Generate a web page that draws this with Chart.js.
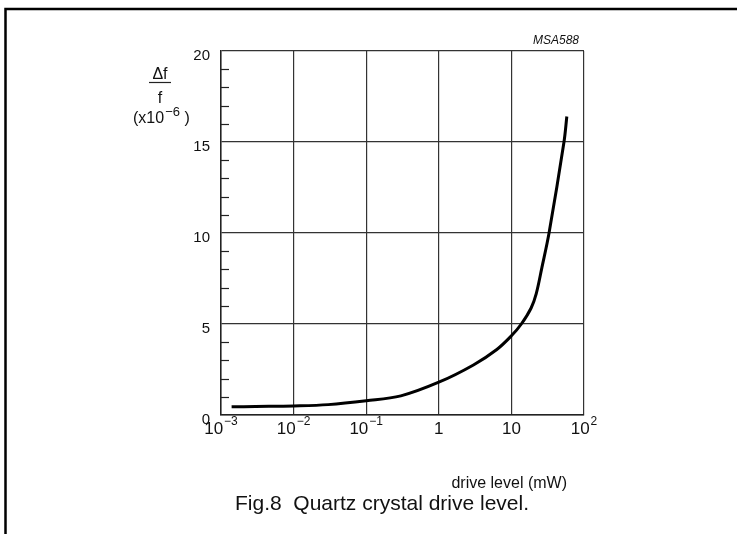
<!DOCTYPE html>
<html><head><meta charset="utf-8">
<script src="https://cdn.jsdelivr.net/npm/chart.js@4"></script>
<style>html,body{margin:0;padding:0;background:#fff;}#wrap{position:relative;width:737px;height:534px;}</style>
</head><body><div id="wrap"><canvas id="c" width="737" height="534"></canvas></div>
<script>
// Data (drive level in mW, delta f / f in 1e-6)
const driveLevel = [0.0014, 0.003, 0.01, 0.03, 0.1, 0.3, 1, 3, 6.3, 10, 13.7, 18.7, 22, 26.3, 33, 53, 58];
const deltaF     = [0.45, 0.47, 0.5, 0.57, 0.78, 1.05, 1.8, 2.75, 3.6, 4.35, 5.0, 5.88, 6.67, 8.1, 10, 15, 16.4];
const xTicks    = [0.001, 0.01, 0.1, 1, 10, 100];
const xTickBase = ['10', '10', '10', '1', '10', '10'];
const xTickExp  = ['\u22123', '\u22122', '\u22121', '', '', '2'];
const yTicks    = [0, 5, 10, 15, 20];
const yTickLabels = ['0', '5', '10', '15', '20'];
const yMinor    = [1,2,3,4,6,7,8,9,11,12,13,14,16,17,18,19];

const FONT = '"Liberation Sans", Arial, Helvetica, sans-serif';

const labelsPlugin = {
  id: 'labels',
  beforeDraw(chart) {
    const ctx = chart.ctx;
    ctx.save();
    ctx.fillStyle = '#fff';
    ctx.fillRect(0, 0, chart.width, chart.height);
    ctx.restore();
  },
  afterDraw(chart) {
    const ctx = chart.ctx;
    const xs = chart.scales.x, ys = chart.scales.y;
    const left = chart.chartArea.left;
    ctx.save();
    ctx.fillStyle = '#111';
    ctx.strokeStyle = '#222';
    // minor inward ticks on y axis
    ctx.lineWidth = 1.2;
    yMinor.forEach(v => {
      const p = Math.round(ys.getPixelForValue(v)) + 0.5;
      ctx.beginPath(); ctx.moveTo(left, p); ctx.lineTo(left + 8, p); ctx.stroke();
    });
    // y tick labels
    ctx.font = '15px ' + FONT;
    ctx.textAlign = 'right';
    ctx.textBaseline = 'alphabetic';
    yTicks.forEach((v, i) => {
      ctx.fillText(yTickLabels[i], 210, ys.getPixelForValue(v) + 8.5);
    });
    // x tick labels with superscripts
    ctx.textAlign = 'left';
    xTicks.forEach((v, i) => {
      const px = xs.getPixelForValue(v);
      ctx.font = '17px ' + FONT;
      const wb = ctx.measureText(xTickBase[i]).width;
      ctx.font = '12px ' + FONT;
      const gap = xTickExp[i] ? 1 : 0;
      const we = xTickExp[i] ? ctx.measureText(xTickExp[i]).width : 0;
      const x0 = px - (wb + gap + we) / 2;
      ctx.font = '17px ' + FONT;
      ctx.fillText(xTickBase[i], x0, 434);
      if (xTickExp[i]) {
        ctx.font = '12px ' + FONT;
        ctx.fillText(xTickExp[i], x0 + wb + gap, 425);
      }
    });
    // x axis title
    ctx.font = '16px ' + FONT;
    ctx.textAlign = 'right';
    ctx.fillText('drive level (mW)', 567, 488);
    // y axis title: delta f / f (x10^-6)
    ctx.font = '16px ' + FONT;
    ctx.textAlign = 'center';
    ctx.fillText('\u0394f', 160, 79);
    ctx.lineWidth = 1.2;
    ctx.beginPath(); ctx.moveTo(149, 82.5); ctx.lineTo(171, 82.5); ctx.stroke();
    ctx.fillText('f', 160, 103);
    ctx.textAlign = 'left';
    ctx.fillText('(x10', 133, 123);
    const w1 = ctx.measureText('(x10').width;
    ctx.font = '13px ' + FONT;
    ctx.fillText('\u22126', 133 + w1 + 1, 116);
    const w2 = ctx.measureText('\u22126').width;
    ctx.font = '16px ' + FONT;
    ctx.fillText(' )', 133 + w1 + w2 + 1, 123);
    // code label
    ctx.font = 'italic 12px ' + FONT;
    ctx.textAlign = 'right';
    ctx.fillText('MSA588', 579, 44);
    // caption
    ctx.font = '21px ' + FONT;
    ctx.textAlign = 'center';
    ctx.fillText('Fig.8  Quartz crystal drive level.', 382, 510);
    // page frame (top and left)
    ctx.strokeStyle = '#000';
    ctx.lineWidth = 2.5;
    ctx.beginPath(); ctx.moveTo(737, 9); ctx.lineTo(5.5, 9); ctx.lineTo(5.5, 534); ctx.stroke();
    ctx.restore();
  }
};

const points = driveLevel.map((x, i) => ({ x: x, y: deltaF[i] }));

new Chart(document.getElementById('c'), {
  type: 'scatter',
  data: { datasets: [{
    data: points,
    showLine: true,
    borderColor: '#000',
    borderWidth: 3,
    pointRadius: 0,
    fill: false,
    tension: 0.35
  }]},
  options: {
    responsive: false,
    animation: false,
    devicePixelRatio: 1,
    layout: { padding: { left: 221, right: 153, top: 51, bottom: 119 } },
    plugins: { legend: { display: false }, tooltip: { enabled: false } },
    scales: {
      x: {
        type: 'logarithmic', min: 0.001, max: 100,
        afterBuildTicks: s => { s.ticks = xTicks.map(v => ({ value: v })); },
        ticks: { display: false },
        grid: { color: '#333', lineWidth: 1.2, drawTicks: false },
        border: { display: true, color: '#222', width: 1.5 }
      },
      y: {
        type: 'linear', min: 0, max: 20,
        afterBuildTicks: s => { s.ticks = yTicks.map(v => ({ value: v })); },
        ticks: { display: false },
        grid: { color: '#333', lineWidth: 1.2, drawTicks: false },
        border: { display: true, color: '#222', width: 1.5 }
      }
    }
  },
  plugins: [labelsPlugin]
});
</script>
</body></html>
